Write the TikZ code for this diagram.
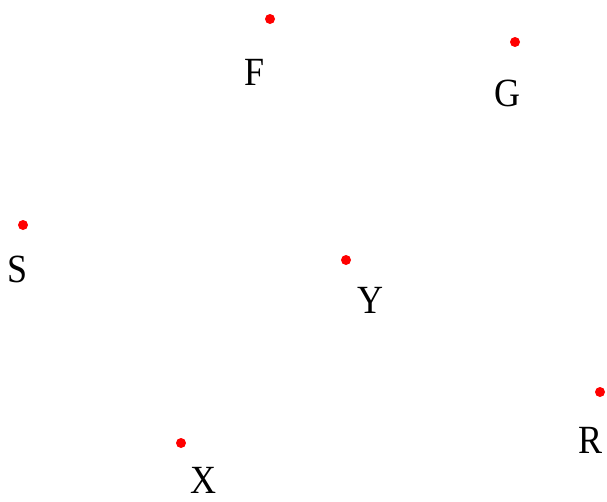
\documentclass[tikz,border=0pt]{standalone}
\usepackage{fontspec}
\setmainfont{Liberation Serif}
\newcommand{\lt}[1]{\scalebox{0.9}[1]{#1}}
\begin{document}
\begin{tikzpicture}[x=1pt,y=-1pt,
  pt/.style={circle,fill=red,inner sep=0pt,minimum size=10pt},
  lbl/.style={inner sep=0pt,font=\fontsize{40}{44}\selectfont}]
\useasboundingbox (0,0) rectangle (607,501);
\node[pt] (f) at (270,19) {};
\node[pt] (g) at (515,42) {};
\node[pt] (s) at (23,225) {};
\node[pt] (y) at (346,260) {};
\node[pt] (x) at (181,443) {};
\node[pt] (r) at (600,392) {};
\node[lbl] (fl) at (255,72) {\lt{F}};
\node[lbl] (gl) at (507,93) {\lt{G}};
\node[lbl] (sl) at (18,269) {\lt{S}};
\node[lbl] (yl) at (370,300) {\lt{Y}};
\node[lbl] (xl) at (203,480) {\lt{X}};
\node[lbl] (rl) at (590,440) {\lt{R}};
\end{tikzpicture}
\end{document}
